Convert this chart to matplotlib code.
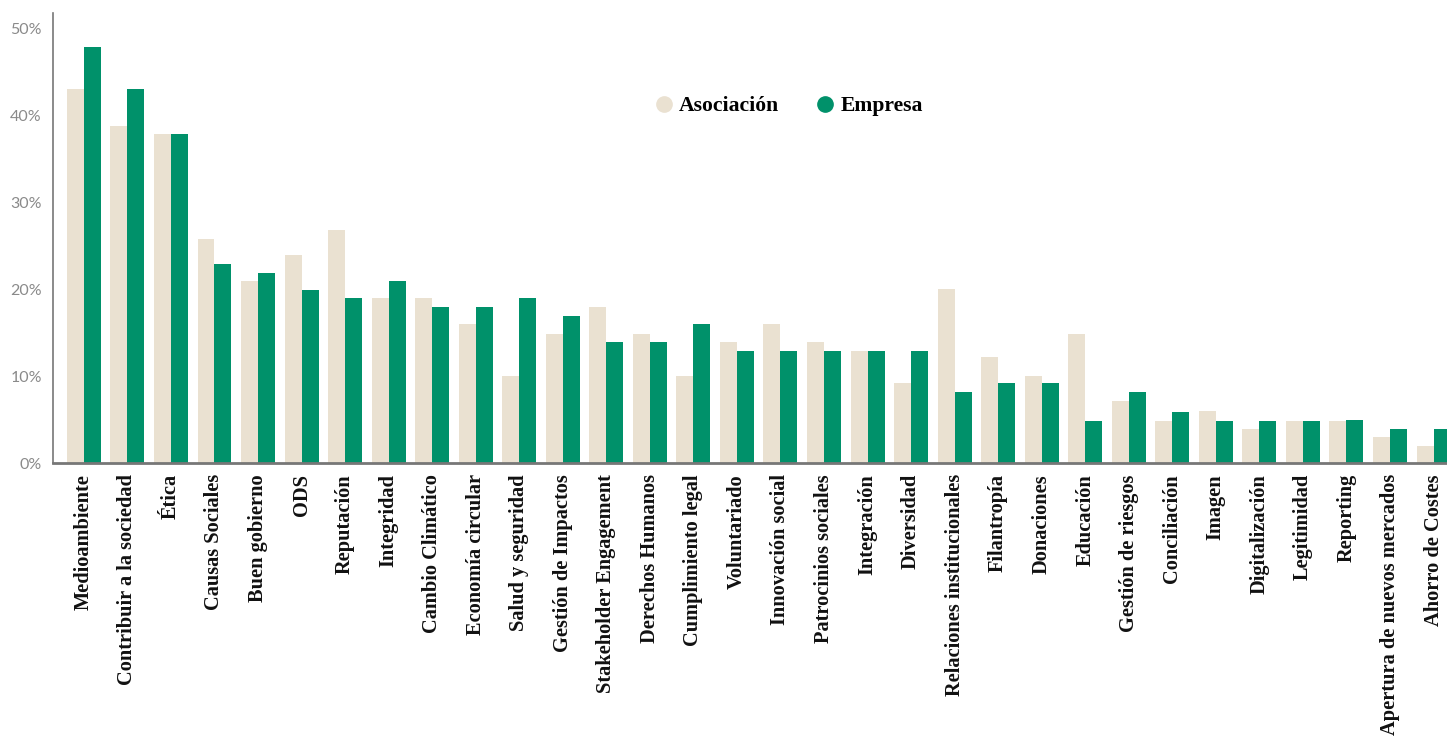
import matplotlib.pyplot as plt
from matplotlib.lines import Line2D
from matplotlib.ticker import FuncFormatter
import numpy as np

categories = [
    "Medioambiente", "Contribuir a la sociedad", "Ética", "Causas Sociales",
    "Buen gobierno", "ODS", "Reputación", "Integridad", "Cambio Climático",
    "Economía circular", "Salud y seguridad", "Gestión de Impactos",
    "Stakeholder Engagement", "Derechos Humanos", "Cumplimiento legal",
    "Voluntariado", "Innovación social", "Patrocinios sociales", "Integración",
    "Diversidad", "Relaciones institucionales", "Filantropía", "Donaciones",
    "Educación", "Gestión de riesgos", "Conciliación", "Imagen",
    "Digitalización", "Legitimidad", "Reporting",
    "Apertura de nuevos mercados", "Ahorro de Costes",
]
asociacion = [43.0, 38.7, 37.8, 25.7, 20.9, 23.9, 26.8, 19.0, 19.0, 16.0,
              10.0, 14.8, 17.9, 14.8, 10.0, 13.9, 16.0, 13.9, 12.9, 9.2,
              20.0, 12.2, 10.0, 14.8, 7.1, 4.8, 6.0, 3.9, 4.8, 4.8, 3.0, 2.0]
empresa = [47.8, 43.0, 37.8, 22.9, 21.8, 19.9, 19.0, 20.9, 17.9, 17.9,
           19.0, 16.9, 13.9, 13.9, 16.0, 12.9, 12.9, 12.9, 12.9, 12.9,
           8.2, 9.2, 9.2, 4.8, 8.2, 5.9, 4.8, 4.8, 4.8, 4.9, 3.9, 3.9]
yticks = [0, 10, 20, 30, 40, 50]

col_asoc = "#EAE1D1"
col_emp = "#00916A"
serif = ["Liberation Serif", "DejaVu Serif"]

fig = plt.figure(figsize=(14.47, 7.38), dpi=100)
ax = fig.add_axes([0.0366, 0.3726, 0.9634, 0.6094])

x = np.arange(len(categories))
w = 0.39
ax.bar(x - w / 2, asociacion, width=w, color=col_asoc)
ax.bar(x + w / 2, empresa, width=w, color=col_emp)

ax.set_xlim(-0.71, len(categories) - 1 + 0.31)
ax.set_ylim(0, 51.7)

# y axis: light grey percent labels, no tick marks
ax.set_yticks(yticks)
ax.yaxis.set_major_formatter(FuncFormatter(lambda v, p: f"{v:.0f}%"))
ax.tick_params(axis="y", length=0, labelsize=11.5, labelcolor="#8a8a8a", pad=8)
for lbl in ax.get_yticklabels():
    lbl.set_family(["Lato", "DejaVu Sans"])

ax.set_xticks(x)
ax.set_xticklabels(categories, rotation=90, family=serif, fontweight="bold",
                   fontsize=14.7, color="#111111")
ax.tick_params(axis="x", length=0, pad=8)

for s in ["top", "right"]:
    ax.spines[s].set_visible(False)
ax.spines["left"].set_color("#777777")
ax.spines["left"].set_linewidth(1.2)
ax.spines["bottom"].set_color("#777777")
ax.spines["bottom"].set_linewidth(2)

handles = [
    Line2D([], [], marker="o", linestyle="", markersize=11, color=col_asoc, label="Asociación"),
    Line2D([], [], marker="o", linestyle="", markersize=11, color=col_emp, label="Empresa"),
]
fig.legend(handles=handles, loc="center", bbox_to_anchor=(789 / 1447, 1 - 106 / 738),
           ncol=2, frameon=False, handlelength=0.8, handletextpad=0.3,
           columnspacing=1.75,
           prop={"family": serif, "weight": "bold", "size": 15.6})

fig.savefig("out.png", dpi=100)
